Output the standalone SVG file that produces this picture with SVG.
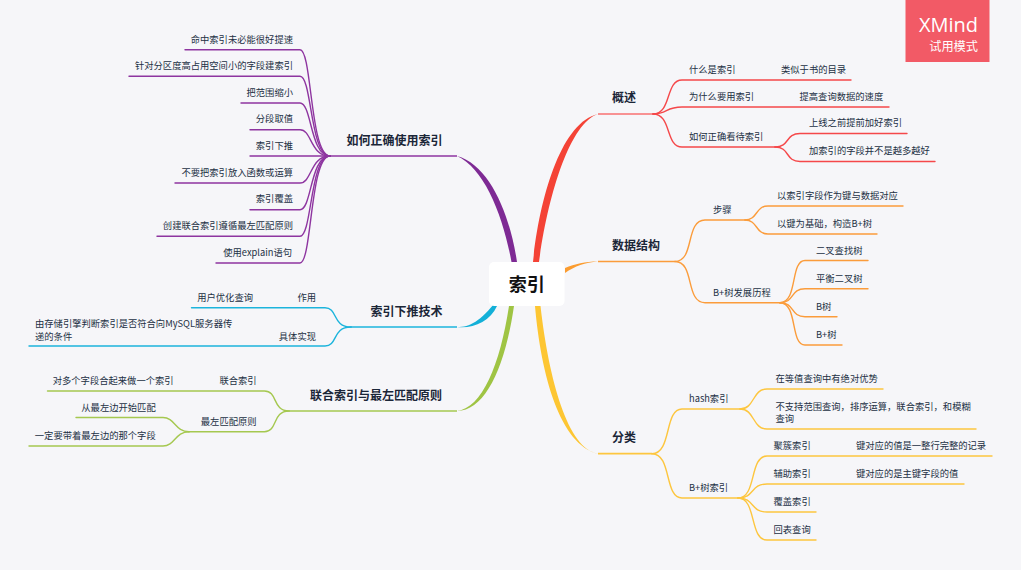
<svg xmlns="http://www.w3.org/2000/svg" width="1021" height="570" viewBox="0 0 1021 570">
<style>
text{font-family:"Noto Sans CJK SC","Noto Sans",sans-serif;fill:#233044;font-size:9.3px}
.m{font-size:12px;font-weight:700;fill:#1b2638}
.r{text-anchor:end}
.l{fill:none;stroke-width:1.4;stroke-linecap:round}
.lm{fill:none;stroke-width:1.7}
.red{stroke:#f5484a}.org{stroke:#fb9c3b}.yel{stroke:#fdc63f}.pur{stroke:#8e35a0}.blu{stroke:#1cb4dc}.grn{stroke:#a5c850}
</style>
<rect width="1021" height="570" fill="#f6f6f9"/>
<g id="connectors">
<path d="M533,262C540,195 562,122 598,114C570,123 548,195 539,262Z" fill="#f44336"/>
<path d="M565,268C575,264 585,261.5 598,261.5C585,262.5 575,266 565,273Z" fill="#fb9c30"/>
<path d="M535,306C541,375 560,445 598,453.7C568,449 549,380 540.5,306Z" fill="#fdc633"/>
<path d="M517,262C510,215 490,165 457,156C484,168 503,215 511.5,262Z" fill="#7e2a94"/>
<path d="M497,300C480,322 470,327 457,327C472,329 490,322 497,306Z" fill="#13b0d8"/>
<path d="M509,306C500,365 482,408 457,411C485,411 505,368 514,306Z" fill="#9fc444"/>
<g class="lm">
<path class="red" d="M598,114H653" style="stroke:#f87171"/>
<path class="org" d="M598,261.5H675"/>
<path class="yel" d="M598,453.7H652"/>
<path class="pur" d="M457,156H330"/>
<path class="blu" d="M457,327H351"/>
<path class="grn" d="M457,411H289"/>
</g>
<g class="l">
<path class="red" d="M653,114C672,114 665,80 682,80H851"/>
<path class="red" d="M653,114C668,114 665,107 682,107H889"/>
<path class="red" d="M653,114C672,114 665,147 682,147H775"/>
<path class="red" d="M775,147C790,147 785,133.5 800,133.5H907"/>
<path class="red" d="M775,147C790,147 785,161.5 800,161.5H935"/>
<path class="org" d="M675,261.5C695,261.5 685,220 705,220H745"/>
<path class="org" d="M675,261.5C695,261.5 685,302.7 705,302.7H780"/>
<path class="org" d="M745,220C758,220 755,206 768,206H903"/>
<path class="org" d="M745,220C758,220 755,234 768,234H877"/>
<path class="org" d="M780,302.7C798,302.7 790,260.5 805,260.5H868"/>
<path class="org" d="M780,302.7C795,302.7 790,288.7 805,288.7H868"/>
<path class="org" d="M780,302.7C795,302.7 790,316.7 805,316.7H837"/>
<path class="org" d="M780,302.7C798,302.7 790,345 805,345H842"/>
<path class="yel" d="M652,453.7C672,453.7 664,409 682,409H740"/>
<path class="yel" d="M652,453.7C672,453.7 664,498 682,498H738"/>
<path class="yel" d="M740,409C755,409 752,389 767,389H883"/>
<path class="yel" d="M740,409C755,409 752,429 767,429H976"/>
<path class="yel" d="M738,498C757,498 749,456 767,456H992"/>
<path class="yel" d="M738,498C755,498 750,484 767,484H964"/>
<path class="yel" d="M738,498C755,498 750,512 767,512H816"/>
<path class="yel" d="M738,498C757,498 749,540 767,540H816"/>
<path class="pur" d="M330,156C310,156 312,49.7 300,49.7H185"/>
<path class="pur" d="M330,156C310,156 312,76.3 300,76.3H129"/>
<path class="pur" d="M330,156C310,156 312,103 300,103H241"/>
<path class="pur" d="M330,156C310,156 312,129.7 300,129.7H250"/>
<path class="pur" d="M330,156H250"/>
<path class="pur" d="M330,156C310,156 312,183 300,183H175"/>
<path class="pur" d="M330,156C310,156 312,209.7 300,209.7H250"/>
<path class="pur" d="M330,156C310,156 312,236.3 300,236.3H157"/>
<path class="pur" d="M330,156C310,156 312,263 300,263H216"/>
<path class="blu" d="M351,327C332,327 338,307.7 325,307.7H191.5"/>
<path class="blu" d="M351,327C332,327 338,346 325,346H29"/>
<path class="grn" d="M289,411C272,411 278,391 264.5,391H47.5"/>
<path class="grn" d="M289,411C272,411 278,431.7 264.5,431.7H189"/>
<path class="grn" d="M189,431.7C175,431.7 175,417.5 163,417.5H76"/>
<path class="grn" d="M189,431.7C175,431.7 175,446 163,446H29"/>
</g>
</g>
<g id="root"><rect x="489" y="262" width="75.5" height="44" rx="5" fill="#fff"/><text x="526.7" y="290.5" text-anchor="middle" style="font-size:18px;font-weight:700;fill:#111">索引</text></g>
<g id="n-gaishu"><text class="m" x="612" y="102">概述</text></g>
<g id="n-a1"><text x="689" y="73.3">什么是索引</text></g>
<g id="n-a1a"><text x="781" y="73.3">类似于书的目录</text></g>
<g id="n-a2"><text x="689" y="99.8">为什么要用索引</text></g>
<g id="n-a2a"><text x="799.5" y="99.8">提高查询数据的速度</text></g>
<g id="n-a3"><text x="689" y="140.3">如何正确看待索引</text></g>
<g id="n-a3a"><text x="809" y="126.3">上线之前提前加好索引</text></g>
<g id="n-a3b"><text x="809" y="154.3">加索引的字段并不是越多越好</text></g>
<g id="n-data"><text class="m" x="612" y="250">数据结构</text></g>
<g id="n-b1"><text x="713" y="213">步骤</text></g>
<g id="n-b1a"><text x="777" y="199">以索引字段作为键与数据对应</text></g>
<g id="n-b1b"><text x="777" y="227">以键为基础，构造B+树</text></g>
<g id="n-b2"><text x="713" y="295.5">B+树发展历程</text></g>
<g id="n-b2a"><text x="816" y="253.5">二叉查找树</text></g>
<g id="n-b2b"><text x="816" y="281.5">平衡二叉树</text></g>
<g id="n-b2c"><text x="816" y="309.5">B树</text></g>
<g id="n-b2d"><text x="816" y="337.5">B+树</text></g>
<g id="n-class"><text class="m" x="612" y="442">分类</text></g>
<g id="n-c1"><text x="689" y="402">hash索引</text></g>
<g id="n-c1a"><text x="775.5" y="382">在等值查询中有绝对优势</text></g>
<g id="n-c1b"><text x="775.5" y="410">不支持范围查询，排序运算，联合索引，和模糊</text><text x="775.5" y="422">查询</text></g>
<g id="n-c2"><text x="689" y="491">B+树索引</text></g>
<g id="n-c2a"><text x="773.5" y="449">聚簇索引</text></g>
<g id="n-c2a1"><text x="856" y="449">键对应的值是一整行完整的记录</text></g>
<g id="n-c2b"><text x="773.5" y="477">辅助索引</text></g>
<g id="n-c2b1"><text x="856" y="477">键对应的是主键字段的值</text></g>
<g id="n-c2c"><text x="773.5" y="505">覆盖索引</text></g>
<g id="n-c2d"><text x="773.5" y="533">回表查询</text></g>
<g id="n-use"><text class="m" x="346.5" y="145">如何正确使用索引</text></g>
<g id="n-d1"><text class="r" x="293" y="43">命中索引未必能很好提速</text></g>
<g id="n-d2"><text class="r" x="293" y="69.3">针对分区度高占用空间小的字段建索引</text></g>
<g id="n-d3"><text class="r" x="293" y="96.3">把范围缩小</text></g>
<g id="n-d4"><text class="r" x="293" y="122.3">分段取值</text></g>
<g id="n-d5"><text class="r" x="293" y="149.3">索引下推</text></g>
<g id="n-d6"><text class="r" x="293" y="176">不要把索引放入函数或运算</text></g>
<g id="n-d7"><text class="r" x="293" y="202.3">索引覆盖</text></g>
<g id="n-d8"><text class="r" x="293" y="229.3">创建联合索引遵循最左匹配原则</text></g>
<g id="n-d9"><text class="r" x="292" y="255.8">使用explain语句</text></g>
<g id="n-icp"><text class="m" x="370.6" y="316">索引下推技术</text></g>
<g id="n-e1"><text class="r" x="316" y="300.5">作用</text></g>
<g id="n-e1a"><text class="r" x="253" y="300.5">用户优化查询</text></g>
<g id="n-e2"><text class="r" x="316" y="339.5">具体实现</text></g>
<g id="n-e2a"><text x="35" y="327">由存储引擎判断索引是否符合向MySQL服务器传</text><text x="35" y="339.5">递的条件</text></g>
<g id="n-comp"><text class="m" x="310" y="400">联合索引与最左匹配原则</text></g>
<g id="n-f1"><text class="r" x="256.6" y="384">联合索引</text></g>
<g id="n-f1a"><text class="r" x="173.6" y="384">对多个字段合起来做一个索引</text></g>
<g id="n-f2"><text class="r" x="256.6" y="424.5">最左匹配原则</text></g>
<g id="n-f2a"><text class="r" x="155.7" y="410.5">从最左边开始匹配</text></g>
<g id="n-f2b"><text class="r" x="155.7" y="438.5">一定要带着最左边的那个字段</text></g>
<g id="logo"><rect x="905.5" y="0" width="84" height="62" fill="#f25a66"/>
<text x="978" y="32" text-anchor="end" style="font-size:20px;fill:#fff;font-family:'Open Sans','Noto Sans',sans-serif">XMind</text>
<text x="978" y="51" text-anchor="end" style="font-size:12.2px;fill:#fff">试用模式</text></g>
</svg>
